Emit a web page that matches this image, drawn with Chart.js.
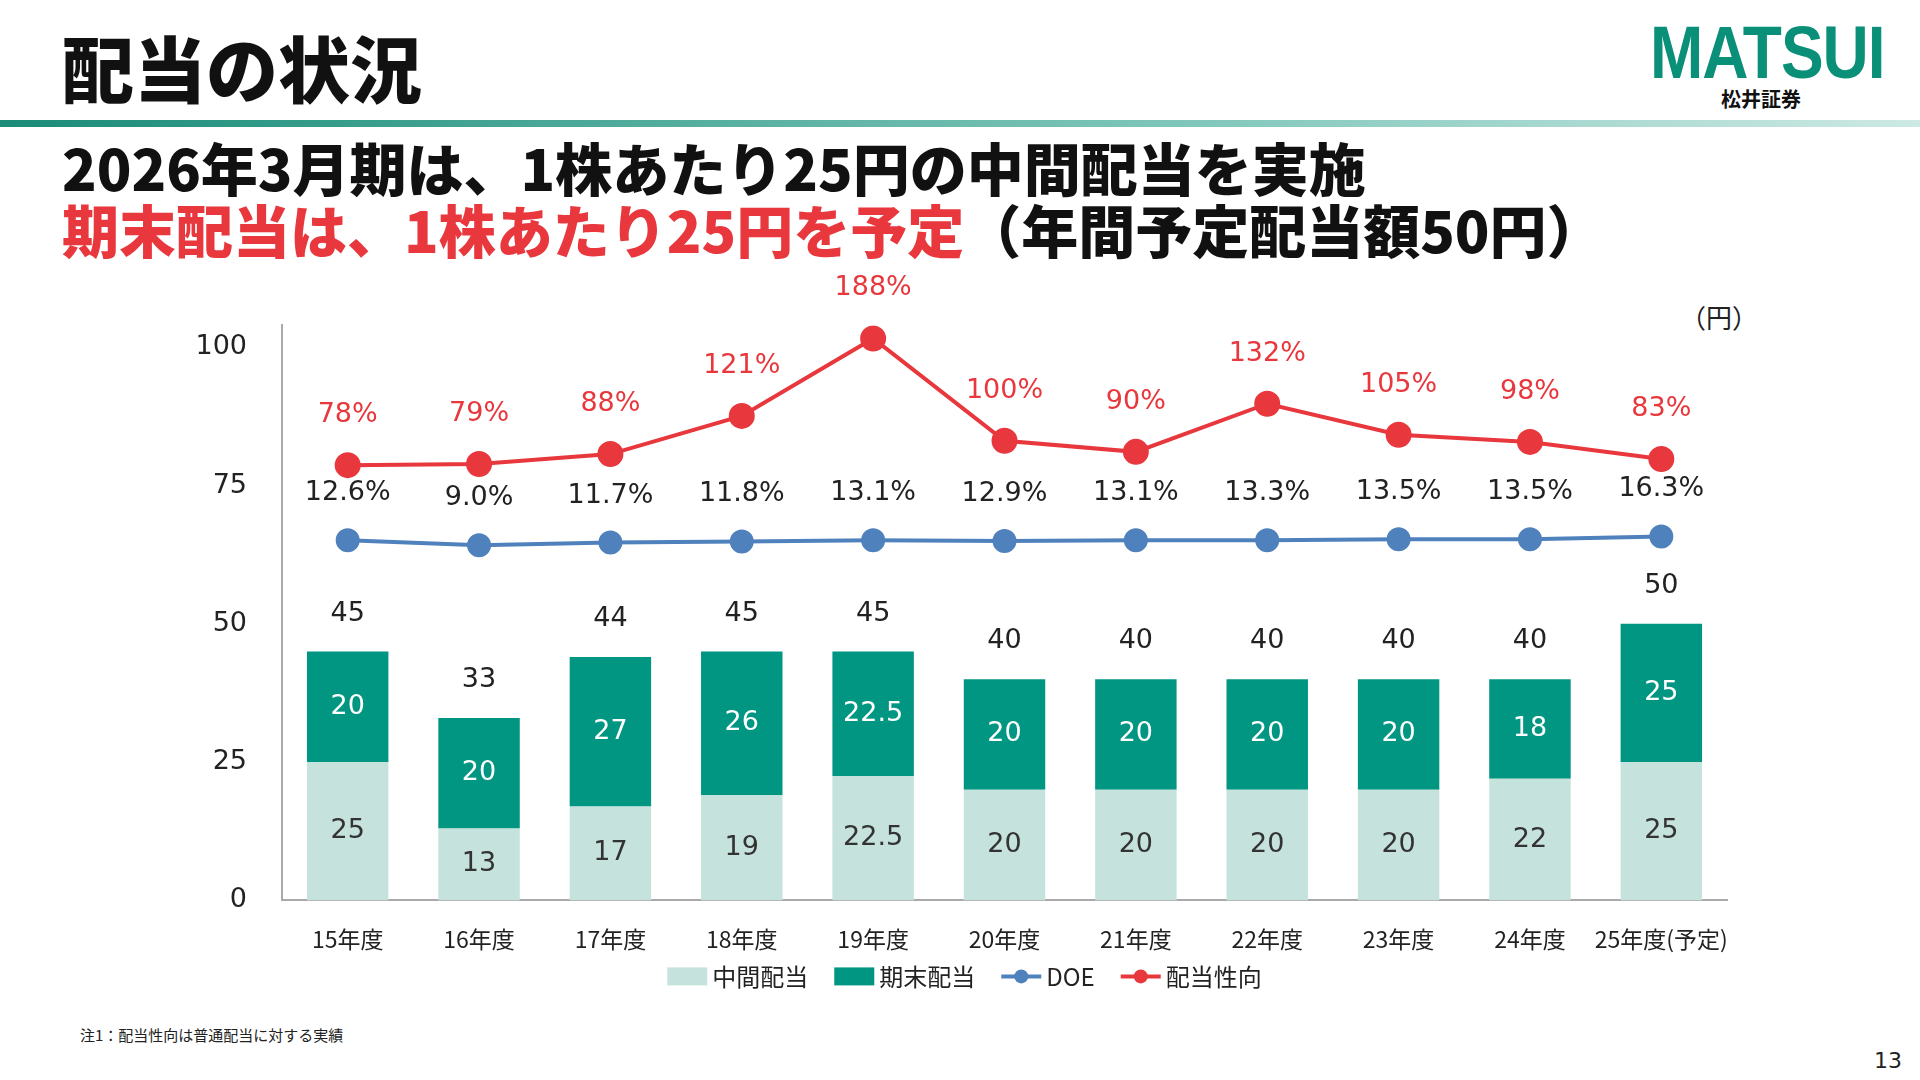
<!DOCTYPE html>
<html><head><meta charset="utf-8">
<script src="https://cdn.jsdelivr.net/npm/chart.js@4"></script>
<style>
body{margin:0;width:1920px;height:1080px;background:#fff;position:relative;overflow:hidden;font-family:"Noto Sans CJK JP",sans-serif}
.t{position:absolute;font-weight:900;white-space:nowrap}
</style></head><body>
<div class="t" style="left:62px;top:18px;font-size:72px;color:#111;line-height:96px">配当の状況</div>
<div style="position:absolute;left:1650px;top:22px;width:222px;text-align:center">
<div style="font-family:'Liberation Sans';font-weight:900;font-size:64px;line-height:62px;color:#0a8f78;letter-spacing:-1px;transform:scaleY(1.15)">MATSUI</div>
<div style="font-size:20px;font-weight:700;line-height:30px;color:#111">松井証券</div></div>
<div style="position:absolute;left:0;top:120px;width:1920px;height:7px;background:linear-gradient(90deg,#1a8c78,#7cc5b8 60%,#cde9e4)"></div>
<div class="t" style="left:62px;top:134px;font-size:57px;color:#111;line-height:64px">2026年3月期は、1株あたり25円の中間配当を実施</div>
<div class="t" style="left:62px;top:196px;font-size:57px;line-height:64px;color:#111"><span style="color:#e8383d">期末配当は、1株あたり25円を予定</span>（年間予定配当額50円）</div>
<div style="position:absolute;left:1680px;top:298px;font-size:26px;color:#222">（円）</div>
<div style="position:absolute;left:80px;top:1024px;font-size:15px;color:#222">注1：配当性向は普通配当に対する実績</div>
<div style="position:absolute;left:1874px;top:1048px;font-size:22px;color:#222;font-family:'DejaVu Sans'">13</div>
<div style="position:absolute;left:170px;top:274px;width:1600px;height:723px"><canvas id="c"></canvas></div>
<script>
const categories=["15年度","16年度","17年度","18年度","19年度","20年度","21年度","22年度","23年度","24年度","25年度(予定)"];
const interim=[25,13,17,19,22.5,20,20,20,20,22,25];
const yearEnd=[20,20,27,26,22.5,20,20,20,20,18,25];
const totals=["45","33","44","45","45","40","40","40","40","40","50"];
const doeLine=[65.1,64.2,64.7,64.9,65.1,65.0,65.1,65.1,65.3,65.3,65.8];
const doeLabels=["12.6%","9.0%","11.7%","11.8%","13.1%","12.9%","13.1%","13.3%","13.5%","13.5%","16.3%"];
const payoutLine=[78.7,78.9,80.7,87.6,101.6,83.1,81.1,89.8,84.2,82.9,79.8];
const payoutLabels=["78%","79%","88%","121%","188%","100%","90%","132%","105%","98%","83%"];
const yTicks=[0,25,50,75,100];
const C_INT="#c5e3dc",C_END="#009682",C_DOE="#4f81bd",C_PAY="#e8383d";
const F="'DejaVu Sans',Verdana,sans-serif";
const labelsPlugin={id:'lbl',afterDatasetsDraw(ch){const x=ch.ctx;x.save();x.textAlign='center';x.textBaseline='middle';x.font='27px '+F;
 const m0=ch.getDatasetMeta(0),m1=ch.getDatasetMeta(1),m2=ch.getDatasetMeta(2),m3=ch.getDatasetMeta(3);
 categories.forEach((_,i)=>{const b0=m0.data[i],b1=m1.data[i];
  x.fillStyle='#333';x.fillText(String(interim[i]),b0.x,(b0.y+b0.base)/2);
  x.fillStyle='#fff';x.fillText(String(yearEnd[i]),b1.x,(b1.y+b1.base)/2);
  x.fillStyle='#222';x.fillText(totals[i],b1.x,b1.y-38);
  x.fillText(doeLabels[i],m2.data[i].x,m2.data[i].y-47);
  x.fillStyle=C_PAY;x.fillText(payoutLabels[i],m3.data[i].x,m3.data[i].y-50);});
 x.restore();},
 afterDraw(ch){const x=ch.ctx;x.save();x.font="24px 'Noto Sans CJK JP'";x.textBaseline='middle';x.textAlign='left';
  const ds=ch.data.datasets,y=ch.chartArea.bottom+76,iw=40,g1=5,g2=26;
  let total=0;ds.forEach(d=>{total+=iw+g1+x.measureText(d.label).width+g2;});total-=g2;
  let cx=(ch.chartArea.left+ch.chartArea.right)/2-40-total/2;
  ds.forEach((d,i)=>{const col=d.borderColor||d.backgroundColor;
   if(i<2){x.fillStyle=d.backgroundColor;x.fillRect(cx,y-9,iw,18);}
   else{x.strokeStyle=col;x.lineWidth=4;x.beginPath();x.moveTo(cx,y);x.lineTo(cx+iw,y);x.stroke();x.fillStyle=col;x.beginPath();x.arc(cx+iw/2,y,7,0,7);x.fill();}
   cx+=iw+g1;x.fillStyle='#222';x.fillText(d.label,cx,y);cx+=x.measureText(d.label).width+g2;});
  x.restore();}};
new Chart(document.getElementById('c'),{
 data:{labels:categories,datasets:[
  {type:'bar',label:'中間配当',data:interim,backgroundColor:C_INT,stack:'s',barPercentage:0.62,categoryPercentage:1,order:3},
  {type:'bar',label:'期末配当',data:yearEnd,backgroundColor:C_END,stack:'s',barPercentage:0.62,categoryPercentage:1,order:3},
  {type:'line',label:'DOE',data:doeLine,stack:'d',borderColor:C_DOE,backgroundColor:C_DOE,borderWidth:4,pointRadius:10,pointHoverRadius:10,order:1},
  {type:'line',label:'配当性向',data:payoutLine,stack:'p',borderColor:C_PAY,backgroundColor:C_PAY,borderWidth:4,pointRadius:11,pointHoverRadius:11,order:0}]},
 options:{responsive:true,maintainAspectRatio:false,animation:false,
  layout:{padding:{top:20,right:43,left:0,bottom:19}},
  plugins:{tooltip:{enabled:false},legend:{display:false}},
  scales:{
   x:{stacked:true,grid:{display:false,drawTicks:false},border:{color:'#aaa',width:2},ticks:{color:'#222',padding:25,maxRotation:0,autoSkip:false,font:{size:23,family:"'Noto Sans CJK JP'"}}},
   y:{stacked:true,min:0,max:104,afterFit(s){s.width=112;},afterBuildTicks(s){s.ticks=yTicks.map(v=>({value:v}));},
    grid:{display:false,drawTicks:false},border:{color:'#aaa',width:2},ticks:{color:'#222',padding:35,font:{size:27,family:F}}}}},
 plugins:[labelsPlugin]});
</script></body></html>
